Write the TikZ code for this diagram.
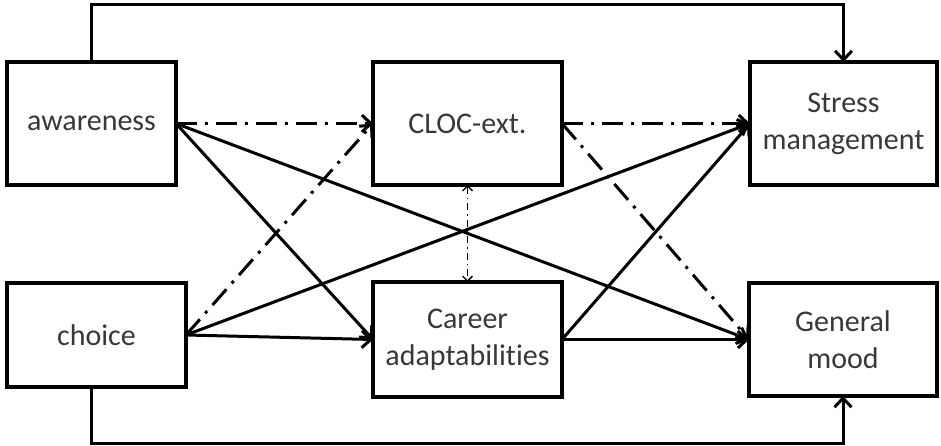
\documentclass[tikz,border=0pt]{standalone}
\usepackage{fontspec}
\setmainfont{Carlito}[Ligatures=NoCommon]
\usetikzlibrary{arrows.meta}
\begin{document}
\begin{tikzpicture}[x=1pt,y=-1pt,
  box/.style={draw, line width=3.4pt, inner sep=0pt, outer sep=0pt, align=center,
    font=\fontsize{30}{37}\selectfont, text=black!78},
  conn/.style={line width=3pt, -{Straight Barb[length=9pt,width=17pt,line width=3pt]}},
  dd/.style={conn, dash pattern=on 21pt off 8pt on 3pt off 8pt},
  vdd/.style={line width=1.4pt, dash pattern=on 7pt off 4pt on 1.5pt off 4pt,
    {Straight Barb[length=5pt,width=10pt,line width=1.4pt]}-{Straight Barb[length=5pt,width=10pt,line width=1.4pt]}}
]
\useasboundingbox (0,0) rectangle (941,446);
\node[box, minimum width=169pt, minimum height=123pt] (aw) at (91.5,123.5) {\raisebox{-3pt}{awareness}};
\node[box, minimum width=179pt, minimum height=104pt] (ch) at (96.5,335) {\raisebox{-2pt}{choice}};
\node[box, minimum width=189pt, minimum height=123pt] (cl) at (467.5,123.5) {\raisebox{-3pt}{CLOC-ext.}};
\node[box, minimum width=189pt, minimum height=115pt] (ca) at (467.5,339.5) {Career\\adaptabilities};
\node[box, minimum width=187pt, minimum height=123pt] (st) at (843.5,123.5) {\raisebox{-4pt}{Stress}\\\raisebox{-4pt}{management}};
\node[box, minimum width=188pt, minimum height=113pt] (gm) at (843,339.5) {General\\mood};

% long feedback lines
\draw[conn] (aw.north) -- ++(0,-57) -| (st.north);
\draw[conn] (ch.south -| aw.north) -- ++(0,56) -| (gm.south);

% from awareness
\draw[dd] (aw.east) -- (cl.west);
\draw[conn] (aw.east) -- (ca.west);
\draw[conn] (aw.east) -- (gm.west);

% from choice
\draw[dd] (ch.east) -- (cl.west);
\draw[conn] (ch.east) -- (st.west);
\draw[conn] (ch.east) -- (ca.west);

% mediators
\draw[vdd] (cl.south) -- (ca.north);
\draw[dd] (cl.east) -- (st.west);
\draw[dd] (cl.east) -- (gm.west);
\draw[conn] (ca.east) -- (st.west);
\draw[conn] (ca.east) -- (gm.west);
\end{tikzpicture}
\end{document}
